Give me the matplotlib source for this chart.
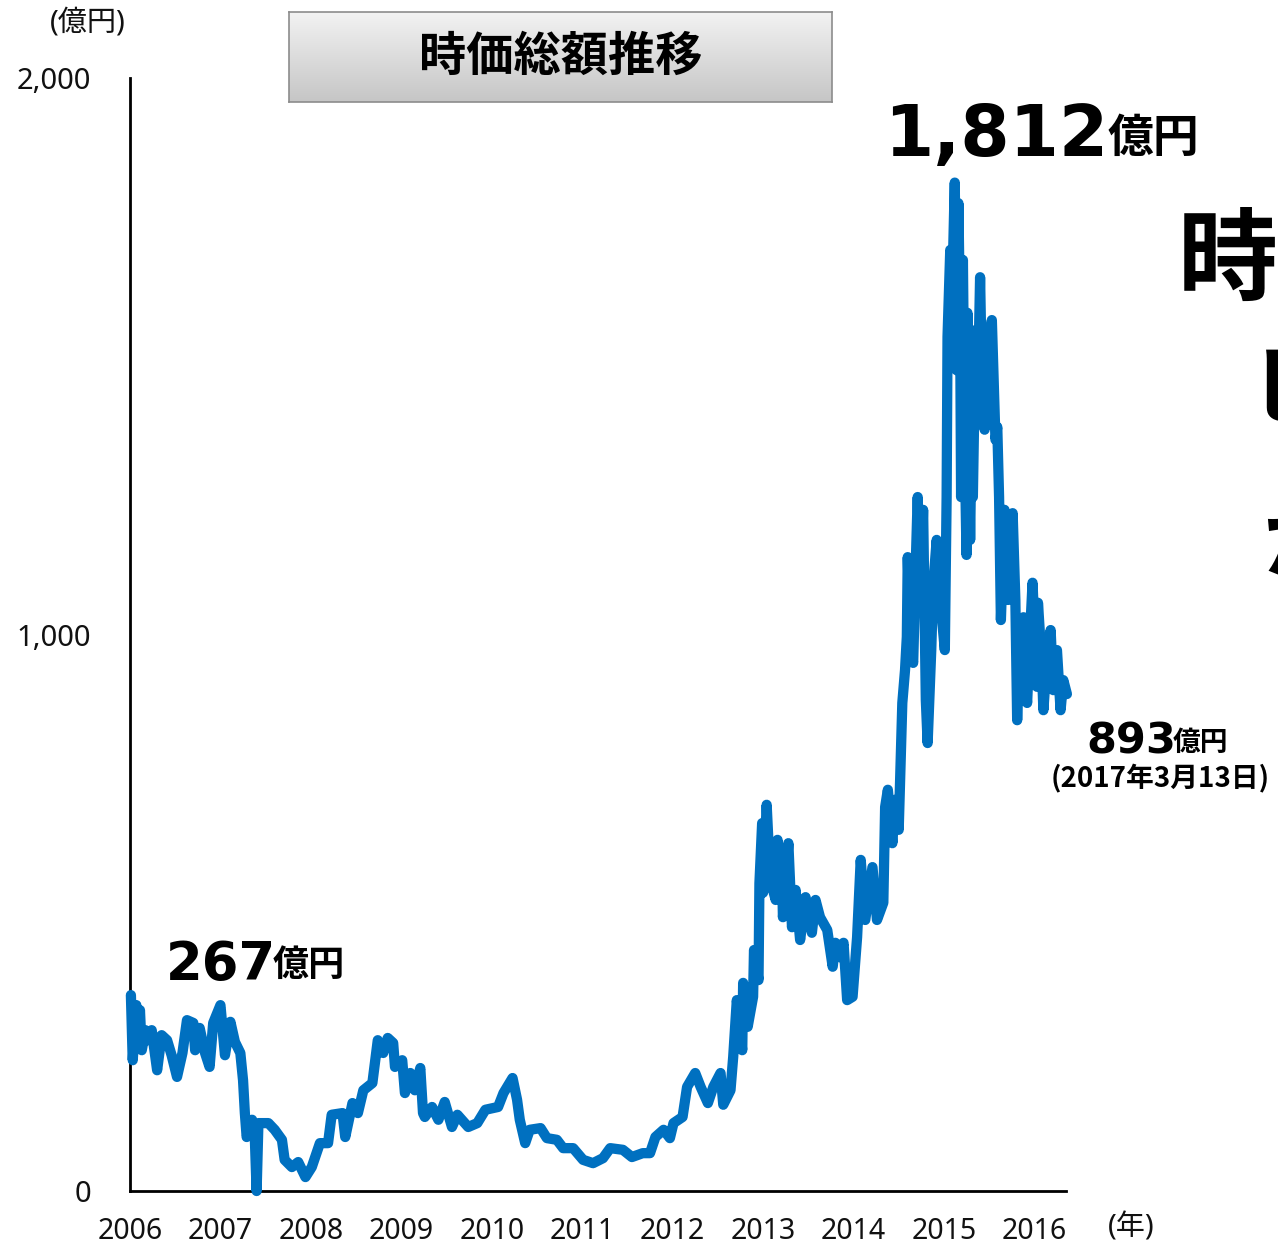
import numpy as np
import matplotlib
matplotlib.use('Agg')
import matplotlib.pyplot as plt

plt.rcParams['font.family'] = ['Noto Sans', 'Noto Sans CJK JP', 'DejaVu Sans']

# Market capitalisation (100 million yen) by decimal year
years = [
    2006.01, 2006.03, 2006.07, 2006.09, 2006.11, 2006.13, 2006.17, 2006.20,
    2006.24, 2006.30, 2006.35, 2006.41, 2006.46, 2006.52, 2006.58, 2006.63,
    2006.70, 2006.72, 2006.77, 2006.83, 2006.88, 2006.92, 2007.00, 2007.05,
    2007.11, 2007.16, 2007.22, 2007.25, 2007.27, 2007.29, 2007.35, 2007.38,
    2007.40, 2007.42, 2007.53, 2007.60, 2007.68, 2007.71, 2007.79, 2007.86,
    2007.94, 2008.01, 2008.10, 2008.19, 2008.23, 2008.35, 2008.38, 2008.46,
    2008.52, 2008.58, 2008.68, 2008.74, 2008.80, 2008.85, 2008.91, 2008.93,
    2009.01, 2009.04, 2009.10, 2009.15, 2009.21, 2009.24, 2009.26, 2009.34,
    2009.41, 2009.48, 2009.56, 2009.62, 2009.74, 2009.84, 2009.93, 2010.07,
    2010.13, 2010.23, 2010.28, 2010.31, 2010.37, 2010.42, 2010.54, 2010.61,
    2010.72, 2010.79, 2010.90, 2011.01, 2011.12, 2011.23, 2011.31, 2011.45,
    2011.55, 2011.67, 2011.75, 2011.81, 2011.90, 2011.97, 2012.01, 2012.11,
    2012.16, 2012.25, 2012.31, 2012.39, 2012.45, 2012.53, 2012.56, 2012.64,
    2012.67, 2012.71, 2012.77, 2012.78, 2012.83, 2012.89, 2012.90, 2012.95,
    2012.96, 2012.99, 2013.00, 2013.04, 2013.08, 2013.14, 2013.16, 2013.21,
    2013.22, 2013.28, 2013.32, 2013.36, 2013.41, 2013.47, 2013.54, 2013.58,
    2013.63, 2013.71, 2013.77, 2013.80, 2013.85, 2013.89, 2013.93, 2013.99,
    2014.04, 2014.08, 2014.13, 2014.21, 2014.26, 2014.33, 2014.35, 2014.38,
    2014.43, 2014.46, 2014.50, 2014.54, 2014.57, 2014.59, 2014.60, 2014.63,
    2014.66, 2014.69, 2014.71, 2014.74, 2014.77, 2014.80, 2014.82, 2014.86,
    2014.88, 2014.92, 2014.96, 2015.01, 2015.03, 2015.04, 2015.07, 2015.09,
    2015.12, 2015.14, 2015.16, 2015.18, 2015.19, 2015.21, 2015.23, 2015.25,
    2015.26, 2015.29, 2015.31, 2015.32, 2015.35, 2015.37, 2015.40, 2015.42,
    2015.45, 2015.48, 2015.53, 2015.57, 2015.59, 2015.61, 2015.63, 2015.67,
    2015.71, 2015.76, 2015.79, 2015.81, 2015.84, 2015.88, 2015.90, 2015.92,
    2015.96, 2015.98, 2016.01, 2016.03, 2016.04, 2016.08, 2016.10, 2016.13,
    2016.18, 2016.21, 2016.23, 2016.25, 2016.29, 2016.32, 2016.36,
]
market_cap = [
    352, 235, 334, 271, 325, 253, 289, 271,
    289, 217, 280, 271, 244, 205, 248, 307,
    302, 253, 293, 248, 223, 302, 334, 244,
    304, 268, 248, 199, 140, 97, 128, 97,
    0, 122, 122, 110, 92, 56, 43, 52,
    25, 43, 86, 86, 137, 140, 97, 158,
    140, 181, 194, 271, 248, 275, 266, 223,
    235, 176, 212, 181, 221, 140, 133, 151,
    128, 160, 115, 137, 115, 122, 146, 151,
    176, 203, 164, 128, 86, 110, 113, 95,
    92, 77, 77, 56, 50, 59, 77, 74,
    61, 68, 68, 97, 110, 95, 122, 133,
    187, 212, 187, 158, 187, 212, 155, 181,
    241, 343, 253, 374, 295, 349, 433, 379,
    553, 661, 536, 694, 559, 523, 631, 571,
    492, 625, 474, 541, 451, 528, 464, 523,
    492, 469, 403, 446, 420, 446, 343, 349,
    456, 595, 487, 582, 487, 518, 690, 721,
    625, 703, 649, 877, 936, 996, 1139, 972,
    949, 1134, 1247, 1062, 1224, 882, 805, 972,
    1085, 1170, 1062, 972, 1247, 1535, 1691, 1601,
    1812, 1475, 1775, 1547, 1247, 1673, 1332, 1143,
    1578, 1170, 1421, 1247, 1547, 1385, 1642, 1457,
    1368, 1511, 1565, 1350, 1373, 1247, 1026, 1224,
    1062, 1218, 1062, 846, 1026, 1031, 918, 877,
    1026, 1093, 972, 906, 1057, 954, 864, 936,
    1008, 900, 954, 972, 864, 918, 893,
]

year_ticks = list(range(2006, 2017))
value_ticks = [0, 1000, 2000]

W, H = 1278, 1246
fig = plt.figure(figsize=(W / 100, H / 100), dpi=100)


def fx(px):
    return px / W


def fy(py):
    return 1 - py / H


ax = fig.add_axes([fx(130), fy(1191), fx(1066) - fx(130), fy(78) - fy(1191)])
ax.plot(years, market_cap, color='#0070C0', lw=7.4, solid_joinstyle='round',
        solid_capstyle='round', clip_on=False, zorder=3)
ax.set_xlim(2006, 2016.35)
ax.set_ylim(0, 2000)

for side in ('top', 'right'):
    ax.spines[side].set_visible(False)
for side in ('left', 'bottom'):
    ax.spines[side].set_linewidth(2)
    ax.spines[side].set_color('black')

ax.set_xticks(year_ticks)
ax.set_xticklabels([str(y) for y in year_ticks], fontsize=20.5, color='#111111')
ax.set_yticks(value_ticks)
ax.set_yticklabels(['{:,}'.format(v) for v in value_ticks], fontsize=21, color='#111111')
ax.tick_params(axis='x', length=0, pad=19)
ax.tick_params(axis='y', length=0, pad=28)

# unit labels
fig.text(fx(88), fy(23), '(億円)', fontsize=21, ha='center', va='center', color='#111111')
fig.text(fx(1131), fy(1228), '(年)', fontsize=21, ha='center', va='center', color='#111111')

# title box with a vertical grey gradient
tax = fig.add_axes([fx(289), fy(102), fx(832) - fx(289), fy(12) - fy(102)])
grad = np.linspace(0, 1, 100).reshape(-1, 1)
tax.imshow(grad, cmap=matplotlib.colors.LinearSegmentedColormap.from_list(
    'g', ['#f2f2f2', '#c6c6c6']), aspect='auto', extent=(0, 1, 0, 1), origin='upper')
tax.set_xticks([])
tax.set_yticks([])
for sp in tax.spines.values():
    sp.set_color('#8c8c8c')
    sp.set_linewidth(1.2)
tax.text(0.5, 0.5, '時価総額推移', fontsize=34, fontweight='bold', ha='center',
         va='center', family=['Noto Sans CJK JP'], transform=tax.transAxes)

# value callouts
bold_num = dict(fontweight='bold', family=['DejaVu Sans'], va='baseline', color='black')
bold_jp = dict(fontweight='bold', family=['Noto Sans CJK JP'], va='baseline', color='black')

fig.text(fx(884), fy(156), '{:,}'.format(max(market_cap)), fontsize=51, **bold_num)
fig.text(fx(1108), fy(152), '億円', fontsize=33, **bold_jp)

fig.text(fx(166), fy(980), str(267), fontsize=38, **bold_num)
fig.text(fx(273), fy(976), '億円', fontsize=26, **bold_jp)

fig.text(fx(1086), fy(753), str(market_cap[-1]), fontsize=31, **bold_num)
fig.text(fx(1173), fy(751), '億円', fontsize=20, **bold_jp)
fig.text(fx(1160), fy(779), '(2017年3月13日)', fontsize=20, fontweight='bold',
         family=['Noto Sans CJK JP'], ha='center', va='center')

# side headline running off the right edge
fig.text(fx(1178), fy(262), '時価総額', fontsize=72, fontweight='bold',
         family=['Noto Sans CJK JP'], va='center')
fig.text(fx(1252), fy(392), 'ピーク時', fontsize=64, fontweight='bold',
         family=['Noto Sans CJK JP'], va='center')
fig.text(fx(1262), fy(545), 'から', fontsize=64, fontweight='bold',
         family=['Noto Sans CJK JP'], va='center')

fig.savefig('out.png', dpi=100)
